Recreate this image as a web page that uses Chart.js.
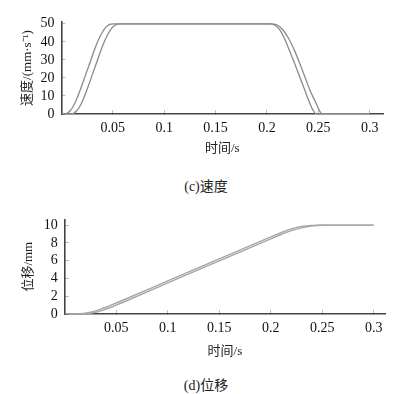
<!DOCTYPE html>
<html>
<head>
<meta charset="utf-8">
<script src="https://cdn.jsdelivr.net/npm/chart.js@4.4.0/dist/chart.umd.min.js"></script>
<style>
  body { margin: 0; background: #fff; width: 400px; height: 394px; position: relative; overflow: hidden; }
  .box { position: absolute; left: 0; width: 400px; }
  .cap { position: absolute; left: 0; width: 412px; text-align: center; font: 14px 'Liberation Serif', 'Noto Sans CJK SC'; color: #222; }
</style>
</head>
<body>
<div class="box" style="top:0;height:165px"><canvas id="velChart" width="400" height="165"></canvas></div>
<div class="cap" style="top:175px">(c)速度</div>
<div class="box" style="top:200px;height:165px"><canvas id="dispChart" width="400" height="165"></canvas></div>
<div class="cap" style="top:374px">(d)位移</div>

<script>
// tick labels
const timeTicks = [0.05, 0.1, 0.15, 0.2, 0.25, 0.3];
const velTicks = [0, 10, 20, 30, 40, 50];
const dispTicks = [0, 2, 4, 6, 8, 10];

// (c) velocity, two curves (mm/s)
const velTimeA = [0, 0.0035, 0.008, 0.013, 0.018, 0.023, 0.028, 0.033, 0.038, 0.043, 0.047, 0.050,
  0.203, 0.207, 0.212, 0.217, 0.222, 0.227, 0.232, 0.237, 0.241, 0.245, 0.248, 0.3];
const velA = [0, 0, 1.5, 6, 13, 21, 29, 37, 43.5, 48, 49.7, 50,
  50, 49.5, 47, 42, 35, 28, 20.5, 13, 7, 2, 0, 0];
const velTimeB = [0, 0.010, 0.0145, 0.0195, 0.0245, 0.0295, 0.0345, 0.0395, 0.0445, 0.0495, 0.0535, 0.0565,
  0.204, 0.209, 0.215, 0.221, 0.227, 0.232, 0.237, 0.242, 0.247, 0.251, 0.254, 0.3];
const velB = [0, 0, 1.5, 6, 13, 21, 29, 37, 43.5, 48, 49.7, 50,
  50, 49.5, 47, 42, 35, 28, 20.5, 13, 7, 2, 0, 0];

// (d) displacement, two curves (mm)
const dispTimeA = [0, 0.005, 0.01, 0.015, 0.02, 0.025, 0.03, 0.035, 0.04, 0.045, 0.05, 0.1, 0.15, 0.2,
  0.21, 0.22, 0.23, 0.24, 0.248, 0.3];
const dispA = [0, 0, 0.01, 0.035, 0.09, 0.2, 0.35, 0.54, 0.76, 1.0, 1.24, 3.72, 6.2, 8.68,
  9.17, 9.58, 9.86, 9.98, 10, 10];
const dispTimeB = [0, 0.01, 0.015, 0.02, 0.025, 0.03, 0.035, 0.04, 0.045, 0.05, 0.055, 0.1, 0.15, 0.2,
  0.21, 0.22, 0.23, 0.24, 0.25, 0.255, 0.3];
const dispB = [0, 0, 0.01, 0.035, 0.09, 0.2, 0.35, 0.54, 0.76, 1.0, 1.24, 3.5, 5.98, 8.46,
  8.95, 9.38, 9.7, 9.9, 9.99, 10, 10];

const serif = "'Liberation Serif', 'Noto Sans CJK SC'";

function toPoints(ts, vs) {
  return ts.map((t, i) => ({ x: t, y: vs[i] }));
}

function makeChart(id, opts) {
  const lineSet = (data, color, width) => ({
    data: data,
    borderColor: color,
    borderWidth: width,
    pointRadius: 0,
    cubicInterpolationMode: 'monotone',
    fill: false
  });

  return new Chart(document.getElementById(id), {
    type: 'line',
    data: {
      datasets: [
        lineSet(opts.seriesA, opts.color, opts.width),
        lineSet(opts.seriesB, opts.color, opts.width)
      ]
    },
    options: {
      responsive: false,
      animation: false,
      layout: { padding: { top: opts.top, left: 0, right: opts.right, bottom: 0 } },
      plugins: { legend: { display: false }, tooltip: { enabled: false } },
      scales: {
        x: {
          type: 'linear',
          min: 0,
          max: opts.xMax,
          afterBuildTicks: (s) => { s.ticks = timeTicks.map(v => ({ value: v })); },
          afterFit: (s) => { s.height = 51; },
          grid: { drawOnChartArea: false, drawTicks: true, tickLength: -4, color: '#bbb' },
          border: { color: '#444', width: 1.6 },
          ticks: {
            padding: 10,
            color: '#111',
            autoSkip: false,
            font: { family: serif, size: 14 },
            maxRotation: 0,
            callback: (v) => String(v)
          },
          title: {
            display: true,
            text: '时间/s',
            color: '#222',
            font: { family: serif, size: 13 },
            padding: { top: 0, bottom: opts.xTitlePad }
          }
        },
        y: {
          min: 0,
          max: opts.yMax,
          afterBuildTicks: (s) => { s.ticks = opts.yTicks.map(v => ({ value: v })); },
          afterFit: (s) => { s.width = opts.left; },
          grid: { drawOnChartArea: false, drawTicks: true, tickLength: -4, color: '#bbb' },
          border: { color: '#444', width: 1.6 },
          ticks: {
            padding: 11,
            color: '#111',
            autoSkip: false,
            font: { family: serif, size: 14 }
          },
          title: {
            display: true,
            text: opts.yTitle,
            color: '#222',
            font: { family: serif, size: 13 },
            padding: { top: opts.yTitlePad, bottom: 0 }
          }
        }
      }
    }
  });
}

makeChart('velChart', {
  seriesA: toPoints(velTimeA, velA),
  seriesB: toPoints(velTimeB, velB),
  color: '#8a8a8a', width: 1.3,
  top: 22, right: 17, left: 61.5, xMax: 0.313,
  yMax: 51, yTicks: velTicks,
  yTitle: '速度/(mm·s⁻¹)', yTitlePad: 20, xTitlePad: 9
});

makeChart('dispChart', {
  seriesA: toPoints(dispTimeA, dispA),
  seriesB: toPoints(dispTimeB, dispB),
  color: '#a5a5a5', width: 1.4,
  top: 18, right: 15, left: 64.8, xMax: 0.311,
  yMax: 10.65, yTicks: dispTicks,
  yTitle: '位移/mm', yTitlePad: 21, xTitlePad: 6
});
</script>
</body>
</html>
